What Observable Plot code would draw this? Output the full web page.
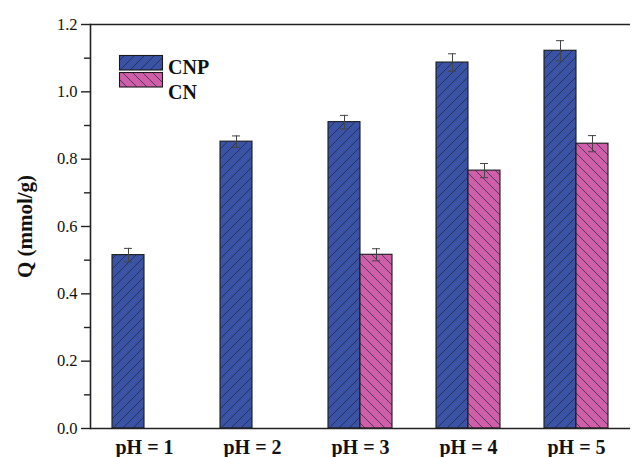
<!DOCTYPE html>
<html><head><meta charset="utf-8">
<script src="https://cdn.jsdelivr.net/npm/d3@7"></script>
<script src="https://cdn.jsdelivr.net/npm/@observablehq/plot@0.6"></script>
<style>
html,body{margin:0;padding:0;background:#fff;}
#chart{position:relative;width:632px;height:457px;}
#chart svg, #chart svg text{font-family:"Liberation Serif","Times New Roman",serif !important;}
g[aria-label="y-axis label"] text{font-weight:bold;font-size:21px;}
g[aria-label="fx-axis tick label"] text{font-weight:bold;font-size:20px;}
g[aria-label="y-axis tick label"] text{font-size:16.5px;}
</style></head><body><div id="chart"></div>
<script>
const phLabels = ["pH = 1", "pH = 2", "pH = 3", "pH = 4", "pH = 5"];
const seriesNames = ["CNP", "CN"];
const cnpQ = [0.515, 0.852, 0.910, 1.087, 1.122];
const cnpErr = [0.020, 0.017, 0.020, 0.026, 0.030];
const cnQ = [null, null, 0.516, 0.766, 0.846];
const cnErr = [null, null, 0.018, 0.021, 0.024];
const yMajorTicks = [0, 0.2, 0.4, 0.6, 0.8, 1.0, 1.2];
const yMinorTicks = [0.1, 0.3, 0.5, 0.7, 0.9, 1.1];
const seriesColors = {CNP: "#3a53a5", CN: "#cf5fa8"};
const patternIds = {CNP: "hatchCNP", CN: "hatchCN"};

const rows = [];
phLabels.forEach((ph, i) => {
  if (cnpQ[i] != null) rows.push({ph, series: "CNP", q: cnpQ[i], err: cnpErr[i]});
  if (cnQ[i] != null) rows.push({ph, series: "CN", q: cnQ[i], err: cnErr[i]});
});

const plot = Plot.plot({
  width: 632,
  height: 457,
  marginLeft: 89,
  marginRight: 1,
  marginTop: 24,
  marginBottom: 29,
  style: {fontFamily: '"Liberation Serif","Times New Roman",serif', fontSize: "16.5px", color: "#111"},
  fx: {domain: phLabels, padding: 0, label: null, axis: null},
  x: {domain: seriesNames, paddingInner: 0, paddingOuter: 0.65, axis: null},
  y: {domain: [0, 1.2], axis: null},
  marks: [
    Plot.barY(rows, {fx: "ph", x: "series", y: "q", fill: d => `url(#${patternIds[d.series]})`, stroke: "#1a1a1a", strokeWidth: 1.1}),
    Plot.ruleX(rows, {fx: "ph", x: "series", y1: d => d.q - d.err, y2: d => d.q + d.err, stroke: "#444", strokeWidth: 1}),
    Plot.tickY(rows, {fx: "ph", x: "series", y: d => d.q + d.err, stroke: "#444", strokeWidth: 1, insetLeft: 12, insetRight: 12}),
    Plot.tickY(rows, {fx: "ph", x: "series", y: d => d.q - d.err, stroke: "#444", strokeWidth: 1, insetLeft: 12, insetRight: 12}),
    Plot.ruleY([0, 1.2], {stroke: "#222", strokeWidth: 1.6}),
    Plot.axisY({ticks: yMajorTicks, tickSize: 9, tickPadding: 4, tickFormat: d3.format(".1f"), label: "Q (mmol/g)", labelAnchor: "center", labelOffset: 73, labelArrow: "none", stroke: "#222", strokeWidth: 1.4}),
    Plot.axisY({ticks: yMinorTicks, tickSize: 6, tickFormat: () => "", label: null, stroke: "#222", strokeWidth: 1.4}),
    Plot.axisFx({anchor: "bottom", tickSize: 0, tickPadding: 11, label: null}),
    Plot.frame({anchor: "left", stroke: "#222", strokeWidth: 1.6, facet: "super"})
  ]
});

const svg = d3.select(plot);
const defs = svg.insert("defs", ":first-child");
const s = 10;
function addPattern(id, color, forward) {
  const p = defs.append("pattern").attr("id", id).attr("patternUnits", "userSpaceOnUse").attr("width", s).attr("height", s);
  p.append("rect").attr("width", s).attr("height", s).attr("fill", color);
  const d = forward
    ? `M0,${s} L${s},0 M-2,2 L2,-2 M${s-2},${s+2} L${s+2},${s-2}`
    : `M0,0 L${s},${s} M-2,${s-2} L2,${s+2} M${s-2},-2 L${s+2},2`;
  p.append("path").attr("d", d).attr("stroke", "#1c1f3a").attr("stroke-width", 0.8).attr("stroke-opacity", 0.85);
}
addPattern("hatchCNP", seriesColors.CNP, true);
addPattern("hatchCN", seriesColors.CN, false);

// inset legend
const legend = svg.append("g").attr("class", "legend").attr("text-anchor", "start");
const legendBoxes = [{y: 55.5}, {y: 72.5}];
const legendText = [{y: 73.5}, {y: 99}];
seriesNames.forEach((name, i) => {
  legend.append("rect").attr("x", 119.5).attr("y", legendBoxes[i].y).attr("width", 43).attr("height", 14.5)
    .attr("fill", `url(#${patternIds[name]})`).attr("stroke", "#1a1a1a").attr("stroke-width", 1.1);
  legend.append("text").attr("x", 168).attr("y", legendText[i].y).attr("font-weight", "bold").attr("font-size", 20)
    .attr("text-anchor", "start").attr("fill", "#111").text(name);
});

document.getElementById("chart").appendChild(plot);
</script></body></html>
